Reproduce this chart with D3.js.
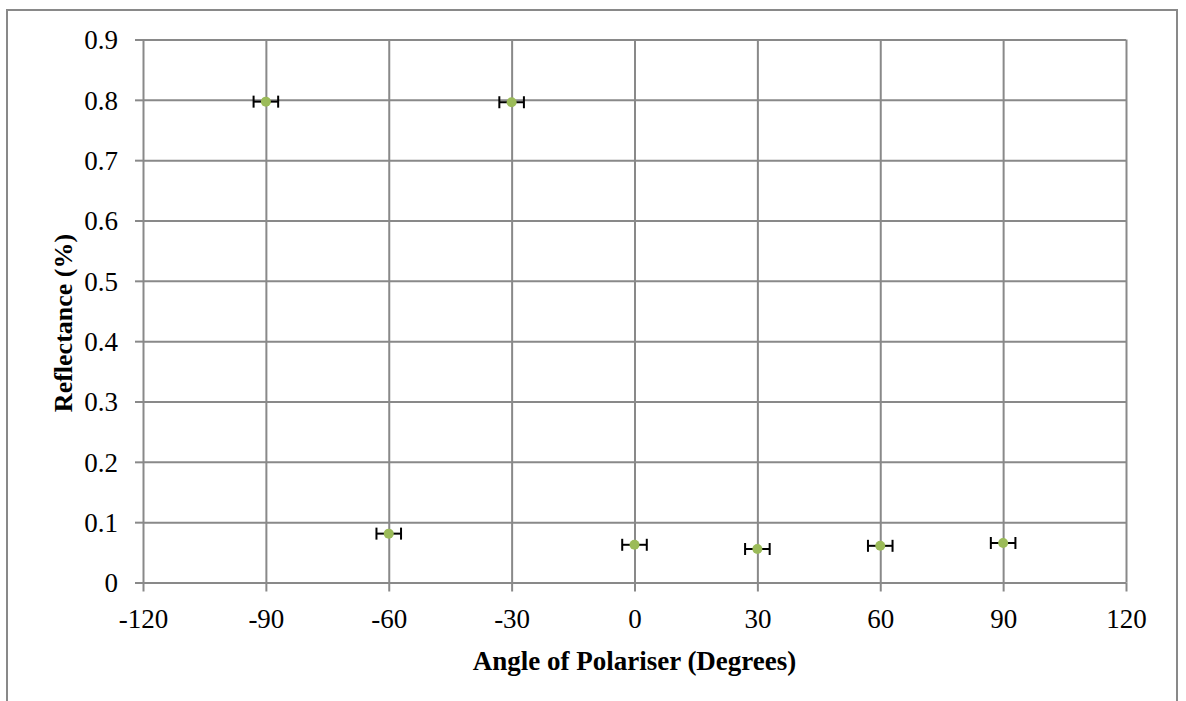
<!DOCTYPE html>
<html>
<head>
<meta charset="utf-8">
<script src="https://cdn.jsdelivr.net/npm/d3@7"></script>
<style>
  html, body { margin: 0; padding: 0; background: #fff; }
  svg { display: block; }
  text { font-family: "Liberation Serif", "Times New Roman", serif; fill: #000; }
</style>
</head>
<body>
<svg id="chart" width="1186" height="701"></svg>
<script>
// Measured reflectance against polariser angle
const angles = [-90, -60, -30, 0, 30, 60, 90];
const reflectance = [0.797, 0.081, 0.796, 0.0625, 0.0555, 0.0608, 0.0655];
const angleError = [3, 3, 3, 3, 3, 3, 3];

const xTicks = [-120, -90, -60, -30, 0, 30, 60, 90, 120];
const yTicks = [0, 0.1, 0.2, 0.3, 0.4, 0.5, 0.6, 0.7, 0.8, 0.9];

const xTitle = "Angle of Polariser (Degrees)";
const yTitle = "Reflectance (%)";

const svg = d3.select("#chart");
const H = 701;
const grey = "#898989";

// chart frame
svg.append("rect")
  .attr("x", 7).attr("y", 10)
  .attr("width", 1170).attr("height", H)
  .attr("fill", "#fff").attr("stroke", grey).attr("stroke-width", 2);

const plot = { left: 143, right: 1126, top: 39.5, bottom: 582.5 };

const x = d3.scaleLinear().domain([-120, 120]).range([plot.left, plot.right]);
const y = d3.scaleLinear().domain([0, 0.9]).range([plot.bottom, plot.top]);

// vertical gridlines with outside ticks
const xAxis = svg.append("g")
  .attr("transform", `translate(0,${plot.bottom})`)
  .call(d3.axisBottom(x).tickValues(xTicks)
    .tickSize(-(plot.bottom - plot.top)).tickSizeOuter(0).tickPadding(0)
    .tickFormat(d => String(d)));
xAxis.attr("font-family", null).attr("font-size", null);
xAxis.select(".domain").remove();
xAxis.selectAll(".tick line").attr("stroke", grey).attr("stroke-width", 2);
xAxis.selectAll(".tick").append("line")
  .attr("y1", 0).attr("y2", 9).attr("stroke", grey).attr("stroke-width", 2);
xAxis.selectAll(".tick text")
  .attr("y", 45).attr("dy", null)
  .style("font-size", "27px");

// horizontal gridlines with outside ticks
const yAxis = svg.append("g")
  .attr("transform", `translate(${plot.left},0)`)
  .call(d3.axisLeft(y).tickValues(yTicks)
    .tickSize(-(plot.right - plot.left)).tickSizeOuter(0).tickPadding(0)
    .tickFormat(d => d === 0 ? "0" : d3.format(".1f")(d)));
yAxis.attr("font-family", null).attr("font-size", null);
yAxis.select(".domain").remove();
yAxis.selectAll(".tick line").attr("stroke", grey).attr("stroke-width", 2);
yAxis.selectAll(".tick").append("line")
  .attr("x1", 0).attr("x2", -8).attr("stroke", grey).attr("stroke-width", 2);
yAxis.selectAll(".tick text")
  .attr("x", -25).attr("dy", "0.34em")
  .style("font-size", "27px");

// axis titles
svg.append("text")
  .attr("x", (plot.left + plot.right) / 2).attr("y", 670)
  .attr("text-anchor", "middle")
  .style("font-size", "27px").style("font-weight", "bold")
  .text(xTitle);

svg.append("text")
  .attr("transform", `translate(72,${(plot.top + plot.bottom) / 2 + 12}) rotate(-90)`)
  .attr("text-anchor", "middle")
  .style("font-size", "26px").style("font-weight", "bold")
  .text(yTitle);

// data: horizontal error bars + markers
const data = angles.map((a, i) => ({ a, r: reflectance[i], e: angleError[i] }));
const pts = svg.append("g").selectAll("g").data(data).join("g");

pts.append("line")
  .attr("x1", d => x(d.a - d.e)).attr("x2", d => x(d.a + d.e))
  .attr("y1", d => y(d.r)).attr("y2", d => y(d.r))
  .attr("stroke", "#000").attr("stroke-width", 2);
pts.append("line")
  .attr("x1", d => x(d.a - d.e)).attr("x2", d => x(d.a - d.e))
  .attr("y1", d => y(d.r) - 6).attr("y2", d => y(d.r) + 6)
  .attr("stroke", "#000").attr("stroke-width", 2);
pts.append("line")
  .attr("x1", d => x(d.a + d.e)).attr("x2", d => x(d.a + d.e))
  .attr("y1", d => y(d.r) - 6).attr("y2", d => y(d.r) + 6)
  .attr("stroke", "#000").attr("stroke-width", 2);
pts.append("circle")
  .attr("cx", d => x(d.a)).attr("cy", d => y(d.r))
  .attr("r", 5)
  .attr("fill", "#9BBB59");
</script>
</body>
</html>
